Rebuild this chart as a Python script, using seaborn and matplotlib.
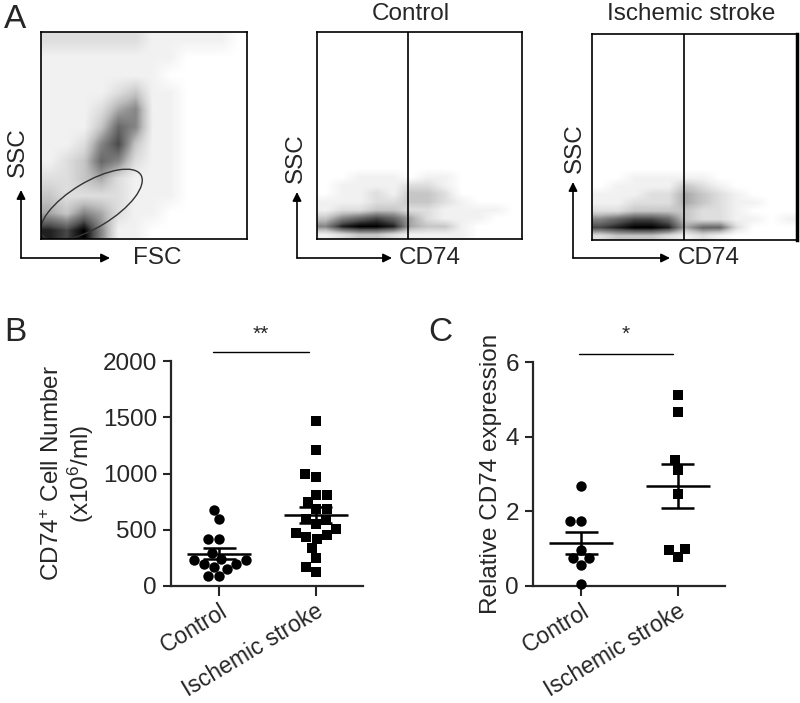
import numpy as np
import pandas as pd
import matplotlib
matplotlib.use("Agg")
import matplotlib.pyplot as plt
from matplotlib.patches import Ellipse, FancyArrowPatch
import seaborn as sns

groups = ["Control", "Ischemic stroke"]

# B: CD74+ cell number (x10^6/ml)
count_control = [678, 598, 415, 415, 293, 243, 234, 198, 234, 198, 154, 169, 86, 86]
count_stroke = [1464, 1206, 993, 969, 812, 812, 747, 687, 682, 599, 584, 554,
                504, 474, 450, 436, 421, 338, 252, 169, 124]

# C: relative CD74 expression
rel_control = [2.68, 1.74, 1.74, 0.96, 0.76, 0.76, 0.57, 0.06]
rel_stroke = [5.12, 4.65, 3.38, 3.11, 2.46, 0.99, 0.78, 0.96]

# A: event density (0 = empty, 9 = saturated), rows top -> bottom
fsc_ssc_density = [
    [2, 2, 2, 2, 2, 2, 1, 1, 1, 1, 1, 0],
    [1, 1, 1, 1, 1, 1, 1, 1, 0, 0, 0, 0],
    [1, 1, 1, 1, 1, 1, 1, 0, 0, 0, 0, 0],
    [1, 1, 1, 1, 2, 3, 1, 1, 0, 0, 0, 0],
    [1, 1, 1, 2, 4, 5, 1, 1, 0, 0, 0, 0],
    [1, 1, 1, 3, 6, 5, 1, 1, 0, 0, 0, 0],
    [1, 1, 2, 5, 7, 3, 1, 1, 0, 0, 0, 0],
    [1, 2, 3, 6, 5, 2, 1, 1, 0, 0, 0, 0],
    [2, 2, 3, 4, 2, 1, 1, 1, 0, 0, 0, 0],
    [3, 2, 2, 2, 2, 1, 1, 1, 0, 0, 0, 0],
    [4, 3, 5, 4, 2, 1, 1, 0, 0, 0, 0, 0],
    [8, 7, 9, 5, 1, 1, 0, 0, 0, 0, 0, 0],
]
cd74_control_density = [
    [0, 0, 0, 0, 0, 0, 0, 0, 0, 0, 0, 0],
    [0, 0, 0, 0, 0, 0, 0, 0, 0, 0, 0, 0],
    [0, 0, 1, 1, 1, 0, 1, 1, 0, 0, 0, 0],
    [0, 1, 1, 1, 1, 2, 2, 1, 0, 0, 0, 0],
    [0, 1, 1, 2, 1, 3, 3, 2, 0, 0, 0, 0],
    [1, 1, 1, 2, 2, 3, 3, 2, 1, 0, 0, 0],
    [1, 2, 2, 3, 3, 2, 2, 1, 1, 1, 1, 0],
    [3, 5, 6, 7, 6, 4, 2, 1, 1, 1, 0, 0],
    [5, 8, 9, 9, 8, 4, 3, 3, 1, 0, 0, 0],
    [1, 2, 3, 3, 2, 1, 1, 1, 1, 0, 0, 0],
]
cd74_stroke_density = [
    [0, 0, 0, 0, 0, 0, 0, 0, 0, 0, 0, 0],
    [0, 0, 0, 0, 0, 0, 0, 0, 0, 0, 0, 0],
    [0, 0, 1, 1, 1, 1, 1, 0, 0, 0, 0, 0],
    [0, 1, 1, 1, 1, 3, 2, 1, 0, 0, 0, 0],
    [1, 1, 1, 2, 2, 4, 3, 2, 1, 0, 0, 0],
    [1, 1, 2, 2, 2, 4, 3, 2, 1, 1, 0, 0],
    [2, 2, 3, 3, 3, 3, 2, 2, 1, 0, 0, 0],
    [5, 6, 7, 7, 6, 3, 2, 2, 1, 1, 0, 1],
    [7, 8, 9, 9, 8, 4, 6, 6, 2, 0, 0, 0],
    [2, 3, 3, 3, 2, 1, 2, 1, 0, 0, 0, 0],
]

W, H = 800, 703
sns.set_theme(style="ticks")
plt.rcParams["font.family"] = ["Liberation Sans", "DejaVu Sans"]
plt.rcParams["font.size"] = 17
plt.rcParams["mathtext.fontset"] = "custom"
plt.rcParams["mathtext.rm"] = "Liberation Sans"
plt.rcParams["mathtext.it"] = "Liberation Sans"

fig = plt.figure(figsize=(W / 100, H / 100), dpi=100)


def rect(left, top, right, bottom):
    return [left / W, 1 - bottom / H, (right - left) / W, (bottom - top) / H]


def fp(x, y):
    return (x / W, 1 - y / H)


def ftext(x, y, s, **kw):
    fig.text(*fp(x, y), s, ha="center", va="center", fontsize=17.5, **kw)


def axis_arrows(cx, cy, top_y, right_x):
    for end in [(cx, top_y), (right_x, cy)]:
        fig.add_artist(FancyArrowPatch(fp(cx, cy), fp(*end), transform=fig.transFigure,
                                       arrowstyle="-|>", mutation_scale=13, lw=1.2,
                                       color="black", shrinkA=0, shrinkB=0))


def flow_panel(box, density, y_top, gate_x=None):
    ax = fig.add_axes(rect(*box))
    ax.imshow(np.array(density), cmap="Greys", vmin=0, vmax=9, aspect="auto",
              extent=(0, 1, 0, y_top), interpolation="bilinear")
    ax.set_xlim(0, 1)
    ax.set_ylim(0, 1)
    ax.set_xticks([])
    ax.set_yticks([])
    for s in ax.spines.values():
        s.set_linewidth(1.2)
        s.set_color("black")
    if gate_x is not None:
        ax.axvline(gate_x, color="black", lw=1.2)
    return ax


# ---- panel A
ax1 = flow_panel((41, 32, 247, 239), fsc_ssc_density, 1.0)
ax1.add_patch(Ellipse((0.245, 0.165), 0.56, 0.22, angle=31, fill=False, lw=1.0, color="#333333"))
flow_panel((317, 32, 522, 239), cd74_control_density, 0.4, gate_x=0.442)
ax3 = flow_panel((592, 34, 797, 240), cd74_stroke_density, 0.4, gate_x=0.447)
ax3.spines["right"].set_linewidth(2.5)

axis_arrows(21, 258, 190, 110)
axis_arrows(297, 258, 192, 392)
axis_arrows(573, 258, 182, 670)
ftext(18, 152, "SSC", rotation=90)
ftext(157, 258, "FSC")
ftext(296, 158, "SSC", rotation=90)
ftext(430, 258, "CD74")
ftext(575, 148, "SSC", rotation=90)
ftext(709, 258, "CD74")
ftext(411, 14, "Control")
ftext(691, 14, "Ischemic stroke")
fig.text(*fp(4, 20), "A", ha="left", va="center", fontsize=24)
fig.text(*fp(4, 333), "B", ha="left", va="center", fontsize=24)
fig.text(*fp(428, 333), "C", ha="left", va="center", fontsize=24)


def dot_panel(box, ctrl, stroke, ylim, yticks, ylabel, label_x, star, bar_y, bar_x):
    ax = fig.add_axes(rect(*box))
    df = pd.DataFrame({"group": [groups[0]] * len(ctrl) + [groups[1]] * len(stroke),
                       "value": list(ctrl) + list(stroke)})
    sns.swarmplot(data=df[df.group == groups[0]], x="group", y="value", order=groups,
                  marker="o", color="black", size=7.5, linewidth=0, ax=ax)
    sns.swarmplot(data=df[df.group == groups[1]], x="group", y="value", order=groups,
                  marker="s", color="black", size=7.5, linewidth=0, ax=ax)
    for c in ax.collections:
        c.set_clip_on(False)
    for i, vals in enumerate([ctrl, stroke]):
        v = np.asarray(vals, dtype=float)
        m = v.mean()
        se = v.std(ddof=1) / np.sqrt(len(v))
        ax.hlines(m, i - 0.33, i + 0.33, color="black", lw=1.8, zorder=5)
        ax.hlines([m - se, m + se], i - 0.17, i + 0.17, color="black", lw=1.8, zorder=5)
        ax.vlines(i, m - se, m + se, color="black", lw=1.8, zorder=5)
    ax.set_xlim(-0.5, 1.49)
    ax.set_ylim(*ylim)
    ax.set_yticks(yticks)
    ax.set_xlabel("")
    ax.set_ylabel(ylabel, fontsize=17.5, linespacing=1.1)
    ax.yaxis.set_label_coords(label_x, 0.5)
    ax.set_xticks([0, 1])
    ax.set_xticklabels(groups, rotation=31, ha="right", rotation_mode="anchor")
    ax.tick_params(axis="x", length=7, width=1.5, labelsize=16.5, pad=3)
    ax.tick_params(axis="y", length=6, width=1.5, labelsize=17.5, pad=4)
    sns.despine(ax=ax)
    for s in ("left", "bottom"):
        ax.spines[s].set_linewidth(1.6)
    ax.plot(bar_x, [bar_y[0]] * 2, color="black", lw=1.0, clip_on=False)
    ax.text(np.mean(bar_x), bar_y[1], star, ha="center", va="center", fontsize=15)
    return ax


dot_panel((171, 361, 363, 586), count_control, count_stroke, (0, 2000),
          [0, 500, 1000, 1500, 2000],
          "CD74$^{+}$ Cell Number\n(x10$^{6}$/ml)", -0.39, "**",
          (2080, 2240), [-0.06, 0.93])
dot_panel((533, 362, 725, 586), rel_control, rel_stroke, (0, 6), [0, 2, 4, 6],
          "Relative CD74 expression", -0.16, "*", (6.22, 6.75), [-0.02, 0.95])

fig.savefig("out.png", dpi=100)
